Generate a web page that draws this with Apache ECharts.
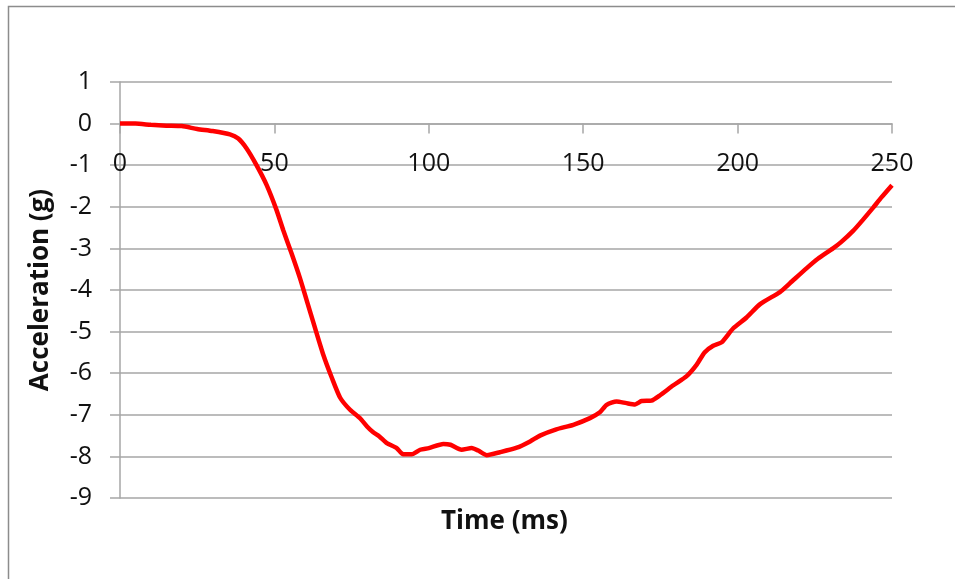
<!DOCTYPE html>
<html>
<head>
<meta charset="utf-8">
<script src="https://cdn.jsdelivr.net/npm/echarts@6/dist/echarts.min.js"></script>
<style>
  html, body { margin: 0; padding: 0; background: #fff; }
  #chart { width: 955px; height: 579px; }
</style>
</head>
<body>
<div id="chart"></div>
<script>
// Crash pulse: time (ms) against acceleration (g)
const timeMs = [
  0, 5, 10, 15, 20, 25, 30, 35.6, 38.3, 41, 44.2, 47.5, 50.7, 52.9, 55.6, 58.3,
  60.5, 63.1, 65.8, 68.6, 71.3, 74.5, 77.7, 80, 82, 84, 86.4, 89.6, 91.7, 94.5,
  97.2, 100, 104.7, 107, 110.6, 113.9, 116, 118.8, 123, 128.5, 132.8, 136, 141.3,
  146.8, 152.2, 155.4, 157.6, 160.8, 164, 166.8, 168.9, 172.1, 174.9, 179.2,
  183.5, 186.7, 189.3, 192.1, 194.8, 198.6, 202.9, 207.3, 213.7, 216.9, 222.3,
  226, 230.9, 233.5, 237.4, 240.5, 243.9, 246.5, 250
];
const accelG = [
  0, 0, -0.03, -0.05, -0.06, -0.13, -0.18, -0.26, -0.36, -0.60, -1.0, -1.48, -2.08,
  -2.57, -3.13, -3.72, -4.26, -4.90, -5.55, -6.11, -6.59, -6.88, -7.08, -7.28,
  -7.42, -7.52, -7.68, -7.80, -7.95, -7.95, -7.84, -7.80, -7.70, -7.72, -7.84,
  -7.80, -7.86, -7.97, -7.90, -7.79, -7.64, -7.50, -7.35, -7.24, -7.08, -6.94,
  -6.76, -6.68, -6.72, -6.75, -6.67, -6.66, -6.53, -6.29, -6.07, -5.80, -5.50,
  -5.34, -5.26, -4.92, -4.66, -4.34, -4.05, -3.84, -3.48, -3.25, -3.0, -2.85,
  -2.58, -2.32, -2.02, -1.78, -1.48
];
const xTitle = 'Time (ms)';
const yTitle = 'Acceleration (g)';

const yMin = -9, yMax = 1;
const gridTop = 82, gridBottom = 81, chartHeight = 579;
const plotHeight = chartHeight - gridTop - gridBottom;
// the time axis crosses the acceleration axis at 0 g
const zeroOffset = -plotHeight * (0 - yMin) / (yMax - yMin);

const chart = echarts.init(document.getElementById('chart'), null, { renderer: 'canvas' });
const gridColor = '#a6a6a6';
const textFont = '"Open Sans", "Liberation Sans", sans-serif';

chart.setOption({
  backgroundColor: '#ffffff',
  animation: false,
  grid: { left: 120, right: 63, top: gridTop, bottom: gridBottom, containLabel: false },
  xAxis: {
    type: 'value',
    position: 'bottom',
    offset: zeroOffset,
    min: 0, max: 250, interval: 50,
    axisLine: { show: true, onZero: false, lineStyle: { color: gridColor, width: 1.5 } },
    axisTick: { show: true, length: 10, lineStyle: { color: gridColor, width: 1.5 } },
    axisLabel: { margin: 28, fontSize: 25, color: '#111', fontFamily: textFont },
    splitLine: { show: false }
  },
  yAxis: {
    type: 'value',
    min: yMin, max: yMax, interval: 1,
    name: yTitle,
    nameLocation: 'middle',
    nameGap: 66,
    nameRotate: 90,
    nameTextStyle: { fontSize: 26, fontWeight: 'bold', color: '#111', fontFamily: textFont },
    axisLine: { show: true, lineStyle: { color: gridColor, width: 1.5 } },
    axisTick: { show: true, length: 10, lineStyle: { color: gridColor, width: 1.5 } },
    axisLabel: { margin: 28, fontSize: 25, color: '#111', fontFamily: textFont },
    splitLine: { show: true, lineStyle: { color: gridColor, width: 1.5 } }
  },
  graphic: [
    {
      type: 'rect',
      shape: { x: 8.5, y: 6.5, width: 1200, height: 1200 },
      style: { fill: 'none', stroke: '#8c8c8c', lineWidth: 1.5 },
      silent: true
    },
    {
      type: 'text',
      left: 506 - 65, top: 509,
      style: { text: xTitle, fill: '#111', font: 'bold 26px ' + textFont },
      silent: true
    }
  ],
  series: [{
    type: 'line',
    data: timeMs.map((t, i) => [t, accelG[i]]),
    showSymbol: false,
    smooth: 0.2,
    lineStyle: { color: '#ff0000', width: 4.5 },
    clip: false
  }]
});
</script>
</body>
</html>
